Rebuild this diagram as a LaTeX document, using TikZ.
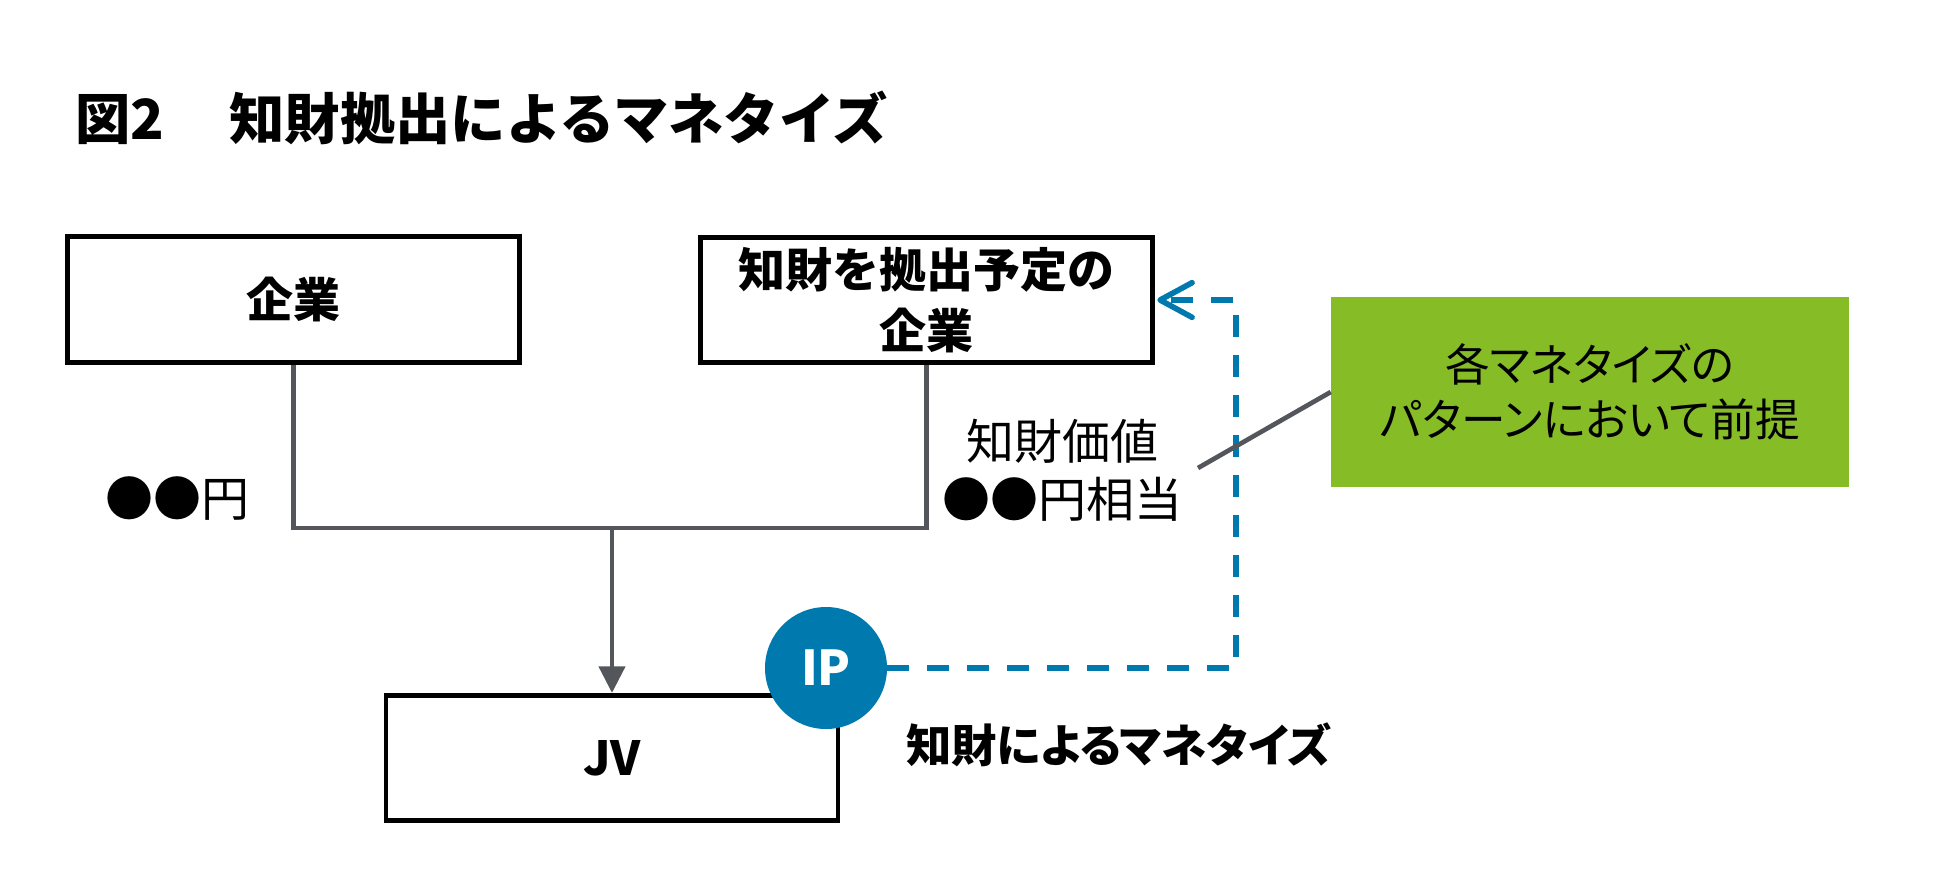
\documentclass[tikz,border=0pt]{standalone}
\usepackage{fontspec}
\setmainfont{Noto Sans CJK JP}
\newfontfamily\jpp[RawFeature=+palt]{Noto Sans CJK JP}
\usetikzlibrary{arrows.meta}
\definecolor{lgray}{HTML}{53565A}
\definecolor{ipblue}{HTML}{0079AE}
\definecolor{dgreen}{HTML}{86BC25}
\begin{document}
\begin{tikzpicture}[x=0.75pt,y=-0.75pt,
  box/.style={draw=black,line width=3.6pt,minimum width=339pt,minimum height=94pt,inner sep=0pt,align=center,font=\bfseries\fontsize{35.25pt}{45.75pt}\selectfont},
  conn/.style={draw=lgray,line width=3.5pt},
  ipline/.style={draw=ipblue,line width=4.2pt,dash pattern=on 16.5pt off 13.5pt},
  lbl/.style={inner sep=0pt,align=center,font=\fontsize{36pt}{43.5pt}\selectfont}
]
\path[use as bounding box] (0,0) rectangle (1936,872);
\node[anchor=base west,inner sep=0pt,font=\bfseries\fontsize{41.5pt}{50pt}\selectfont] (title) at (75,139) {図2\hspace{49pt}知財拠出によるマネタイズ};
\node[box] (b1) at (293.5,299.5) {企業};
\node[box] (b2) at (926.5,300) {知財を拠出予定の\\企業};
\node[box] (jv) at (612,758) {JV};
\node[fill=dgreen,minimum width=388.5pt,minimum height=142.5pt,inner sep=0pt,align=center,font=\jpp\fontsize{33.5pt}{41.25pt}\selectfont] (g) at (1590,392) {各マネタイズの\\パターンにおいて前提};
\node[circle,fill=ipblue,minimum size=91.5pt,inner sep=0pt,text=white,font=\bfseries\fontsize{36pt}{40pt}\selectfont] (ip) at (826,668) {IP};
\node[lbl] (yen) at (177,499) {●●円};
\node[lbl] (val) at (1062,470) {知財価値\\●●円相当};
\node[inner sep=0pt,anchor=west,font=\jpp\bfseries\fontsize{34pt}{42pt}\selectfont] (mon) at (906,745) {知財によるマネタイズ};
\coordinate (j) at (612,528);
\draw[conn] (b1.south) |- (j) -| (b2.south);
\draw[conn,-{Triangle[length=20pt,width=19.5pt]}] (j) -- (jv.north);
\coordinate (dc) at (1236,300);
\draw[ipline,-{Straight Barb[round,length=24pt,width=26pt]}] (ip.east) -| (dc) -- ([xshift=1.8pt]b2.east);
\coordinate (gl) at (1198,468);
\draw[conn] (gl) -- (g.west);
\end{tikzpicture}
\end{document}
